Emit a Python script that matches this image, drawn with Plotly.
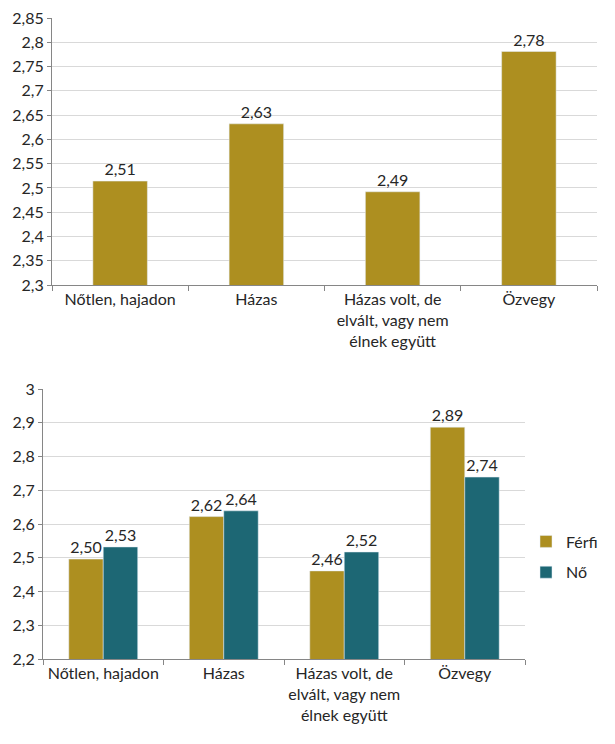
import plotly.graph_objects as go

categories = ["Nőtlen, hajadon", "Házas", "Házas volt, de<br>elvált, vagy nem<br>élnek együtt", "Özvegy"]
total_values = [2.514, 2.632, 2.492, 2.781]
ferfi_values = [2.496, 2.622, 2.461, 2.887]
no_values = [2.532, 2.639, 2.517, 2.739]
top_ticks = [2.3, 2.35, 2.4, 2.45, 2.5, 2.55, 2.6, 2.65, 2.7, 2.75, 2.8, 2.85]
top_ticktext = ["2,3", "2,35", "2,4", "2,45", "2,5", "2,55", "2,6", "2,65", "2,7", "2,75", "2,8", "2,85"]
bottom_ticks = [2.2, 2.3, 2.4, 2.5, 2.6, 2.7, 2.8, 2.9, 3.0]
bottom_ticktext = ["2,2", "2,3", "2,4", "2,5", "2,6", "2,7", "2,8", "2,9", "3"]

GOLD = "#AD8F20"
TEAL = "#1D6774"
TXT = "#262626"
FONT = "Lato"
FS = 16
OFF = 8  # default page body margin
W, H = 615 - OFF, 744 - OFF

fig = go.Figure()
bar_text = dict(texttemplate="%{y:.2f}", textposition="outside", cliponaxis=False,
                constraintext="none", textfont=dict(family=FONT, size=FS, color=TXT))
fig.add_trace(go.Bar(x=categories, y=total_values, marker_color=GOLD, showlegend=False,
                     width=0.4, offset=-0.2, xaxis="x", yaxis="y", **bar_text))
fig.add_trace(go.Bar(x=categories, y=ferfi_values, name="Férfi", marker_color=GOLD,
                     legendgroup="f", width=0.286, offset=-0.286, xaxis="x2", yaxis="y2", **bar_text))
fig.add_trace(go.Bar(x=categories, y=no_values, name="Nő", marker_color=TEAL,
                     legendgroup="n", width=0.286, offset=0, xaxis="x2", yaxis="y2", **bar_text))

def px_x(a, b):
    return [(a - OFF) / W, (b - OFF) / W]

def px_y(top, bottom):
    return [(H - (bottom - OFF)) / H, (H - (top - OFF)) / H]

axis_common = dict(showline=True, linecolor="#868686", linewidth=1, automargin=False,
                   tickfont=dict(family=FONT, size=FS, color=TXT))

fig.update_layout(
    width=W, height=H, margin=dict(l=0, r=0, t=0, b=0, autoexpand=False),
    paper_bgcolor="white", plot_bgcolor="white",
    separators=", ",
    font=dict(family=FONT, size=FS, color=TXT),
    xaxis=dict(domain=px_x(52, 597), anchor="y", type="category", tickangle=0,
               ticks="outside", tickson="boundaries", ticklen=5, tickcolor="#868686",
               showgrid=False, **axis_common),
    yaxis=dict(domain=px_y(18, 285), anchor="x", range=[2.3, 2.85],
               tickvals=top_ticks, ticktext=top_ticktext, ticklabeloverflow="allow",
               ticks="outside", ticklen=4, tickcolor="#868686",
               showgrid=True, gridcolor="#D9D9D9", zeroline=False, **axis_common),
    xaxis2=dict(domain=px_x(43, 525), anchor="y2", type="category", tickangle=0,
                ticks="outside", tickson="boundaries", ticklen=5, tickcolor="#868686",
                showgrid=False, **axis_common),
    yaxis2=dict(domain=px_y(389, 659), anchor="x2", range=[2.2, 3.0],
                tickvals=bottom_ticks, ticktext=bottom_ticktext,
                ticks="outside", ticklen=4, tickcolor="#868686",
                showgrid=True, gridcolor="#D9D9D9", zeroline=False, **axis_common),
    legend=dict(x=(526 - OFF) / W, y=(H - (557 - OFF)) / H, xanchor="left", yanchor="middle",
                font=dict(family=FONT, size=FS, color=TXT), itemwidth=30,
                tracegroupgap=7, bgcolor="rgba(0,0,0,0)"),
)

fig.write_html("out.html")
